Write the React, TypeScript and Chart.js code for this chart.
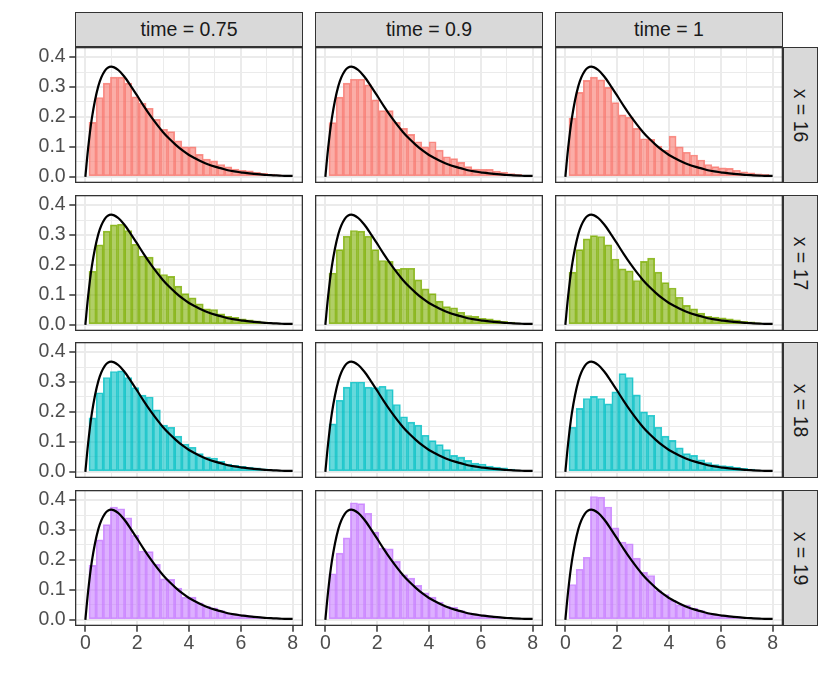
import { useEffect, useRef } from "react";
import Chart from "chart.js/auto";

// facet labels
const timeLabels = ["time = 0.75", "time = 0.9", "time = 1"];
const xLabels = ["x = 16", "x = 17", "x = 18", "x = 19"];

// histogram bin centres (30 bins over the data range, the edge bins fall outside 0..8)
const binMids = [
  0.276, 0.552, 0.828, 1.103, 1.379, 1.655, 1.931, 2.207, 2.483, 2.759, 3.034, 3.31, 3.586, 3.862,
  4.138, 4.414, 4.69, 4.966, 5.241, 5.517, 5.793, 6.069, 6.345, 6.621, 6.897, 7.172, 7.448, 7.724,
];

// densities per panel
const d16_075 = [0.182, 0.265, 0.313, 0.333, 0.333, 0.313, 0.267, 0.246, 0.229, 0.192, 0.159, 0.151, 0.12, 0.1, 0.1, 0.075, 0.059, 0.053, 0.041, 0.033, 0.026, 0.022, 0.02, 0.015, 0.012, 0.009, 0.007, 0.005];
const d16_09 = [0.181, 0.266, 0.313, 0.326, 0.326, 0.307, 0.257, 0.221, 0.221, 0.182, 0.162, 0.142, 0.117, 0.1, 0.117, 0.089, 0.067, 0.061, 0.048, 0.034, 0.026, 0.025, 0.025, 0.019, 0.015, 0.011, 0.008, 0.005];
const d16_1 = [0.196, 0.282, 0.322, 0.333, 0.324, 0.299, 0.248, 0.207, 0.199, 0.162, 0.127, 0.125, 0.103, 0.089, 0.136, 0.1, 0.082, 0.073, 0.056, 0.041, 0.034, 0.03, 0.028, 0.022, 0.017, 0.013, 0.01, 0.008];
const d17_075 = [0.179, 0.267, 0.313, 0.334, 0.336, 0.315, 0.269, 0.23, 0.226, 0.188, 0.168, 0.162, 0.129, 0.104, 0.09, 0.07, 0.053, 0.051, 0.037, 0.028, 0.025, 0.02, 0.017, 0.013, 0.01, 0.007, 0.005, 0.003];
const d17_09 = [0.173, 0.251, 0.296, 0.315, 0.313, 0.296, 0.251, 0.215, 0.212, 0.185, 0.189, 0.189, 0.15, 0.12, 0.104, 0.079, 0.061, 0.057, 0.042, 0.031, 0.028, 0.022, 0.02, 0.016, 0.012, 0.009, 0.006, 0.004];
const d17_1 = [0.176, 0.251, 0.287, 0.298, 0.295, 0.267, 0.22, 0.187, 0.18, 0.148, 0.212, 0.223, 0.176, 0.141, 0.123, 0.092, 0.065, 0.053, 0.039, 0.028, 0.026, 0.023, 0.02, 0.017, 0.012, 0.01, 0.007, 0.004];
const d18_075 = [0.18, 0.264, 0.315, 0.335, 0.337, 0.315, 0.281, 0.256, 0.25, 0.207, 0.156, 0.149, 0.119, 0.093, 0.082, 0.061, 0.049, 0.046, 0.035, 0.026, 0.022, 0.018, 0.016, 0.013, 0.01, 0.007, 0.004, 0.002];
const d18_09 = [0.16, 0.239, 0.283, 0.3, 0.3, 0.283, 0.281, 0.286, 0.275, 0.225, 0.184, 0.166, 0.156, 0.122, 0.104, 0.091, 0.074, 0.055, 0.049, 0.038, 0.029, 0.026, 0.019, 0.016, 0.013, 0.009, 0.006, 0.003];
const d18_1 = [0.149, 0.212, 0.245, 0.252, 0.245, 0.227, 0.267, 0.328, 0.315, 0.257, 0.2, 0.189, 0.149, 0.119, 0.105, 0.08, 0.061, 0.055, 0.04, 0.031, 0.024, 0.021, 0.019, 0.015, 0.012, 0.009, 0.006, 0.003];
const d19_075 = [0.182, 0.267, 0.318, 0.377, 0.371, 0.341, 0.282, 0.23, 0.228, 0.185, 0.137, 0.135, 0.106, 0.076, 0.076, 0.057, 0.046, 0.04, 0.031, 0.022, 0.02, 0.017, 0.013, 0.01, 0.008, 0.006, 0.004, 0.002];
const d19_09 = [0.154, 0.223, 0.274, 0.391, 0.388, 0.356, 0.293, 0.24, 0.237, 0.195, 0.15, 0.139, 0.115, 0.09, 0.076, 0.059, 0.046, 0.042, 0.031, 0.023, 0.02, 0.017, 0.013, 0.01, 0.008, 0.006, 0.004, 0.002];
const d19_1 = [0.118, 0.169, 0.209, 0.412, 0.41, 0.377, 0.307, 0.26, 0.254, 0.206, 0.159, 0.148, 0.098, 0.084, 0.065, 0.05, 0.048, 0.039, 0.031, 0.02, 0.018, 0.014, 0.012, 0.01, 0.008, 0.006, 0.004, 0.002];

const panelData = [
  [d16_075, d16_09, d16_1],
  [d17_075, d17_09, d17_1],
  [d18_075, d18_09, d18_1],
  [d19_075, d19_09, d19_1],
];

// reference density curve
const curveX = [0, 0.1, 0.25, 0.5, 0.75, 1, 1.25, 1.5, 1.75, 2, 2.25, 2.5, 2.75, 3, 3.25, 3.5, 3.75, 4, 4.25, 4.5, 4.75, 5, 5.25, 5.5, 5.75, 6, 6.25, 6.5, 6.75, 7, 7.25, 7.5, 7.75, 8];
const curveY = [0, 0.09, 0.195, 0.303, 0.354, 0.368, 0.358, 0.335, 0.304, 0.271, 0.237, 0.205, 0.176, 0.149, 0.126, 0.106, 0.088, 0.073, 0.061, 0.05, 0.041, 0.034, 0.028, 0.022, 0.018, 0.015, 0.012, 0.01, 0.008, 0.006, 0.005, 0.004, 0.003, 0.003];

// axis ticks (labelled) and grid lines (major + minor)
const xTicks = [0, 2, 4, 6, 8];
const xGrid = [0, 1, 2, 3, 4, 5, 6, 7, 8];
const yTicks = [0, 0.1, 0.2, 0.3, 0.4];
const yGrid = [0, 0.05, 0.1, 0.15, 0.2, 0.25, 0.3, 0.35, 0.4];

const lineCols = [
  "rgba(248,118,109,0.8)",
  "rgba(124,174,0,0.8)",
  "rgba(0,191,196,0.8)",
  "rgba(199,124,255,0.8)",
];
const fillCols = [
  "rgba(248,118,109,0.6)",
  "rgba(124,174,0,0.6)",
  "rgba(0,191,196,0.6)",
  "rgba(199,124,255,0.6)",
];

const FONT = '"Liberation Sans", Arial, Helvetica, sans-serif';
const colLeft = [75, 315, 555];
const rowTop = [47, 195, 342, 490];
const PW = 228;
const PH = 136;
const YAXIS_W = 55;
const XAXIS_H = 34;

const panelBorder = {
  id: "panelBorder",
  afterDraw(chart: any) {
    const { ctx, chartArea: a } = chart;
    ctx.save();
    ctx.strokeStyle = "#333333";
    ctx.lineWidth = 1.3;
    ctx.strokeRect(a.left + 0.65, a.top + 0.65, a.width - 1.3, a.height - 1.3);
    ctx.restore();
  },
};

function Panel({ row, col }: { row: number; col: number }) {
  const ref = useRef<HTMLCanvasElement>(null);
  const showY = col === 0;
  const showX = row === 3;

  useEffect(() => {
    const canvas = ref.current;
    if (!canvas) return;
    const vals = panelData[row][col];
    const isMajorX = (c: any) => c.tick && c.tick.value % 2 === 0;
    const isMajorY = (c: any) => c.tick && yTicks.includes(c.tick.value);

    const chart = new Chart(canvas, {
      type: "bar",
      data: {
        datasets: [
          {
            type: "line",
            data: curveX.map((x, i) => ({ x, y: curveY[i] })),
            borderColor: "#000000",
            borderWidth: 2.2,
            pointRadius: 0,
            cubicInterpolationMode: "monotone",
            order: 0,
          } as any,
          {
            type: "bar",
            data: binMids.map((x, i) => ({ x, y: vals[i] })),
            backgroundColor: fillCols[row],
            borderColor: lineCols[row],
            borderWidth: 1,
            borderSkipped: false,
            barPercentage: 1,
            categoryPercentage: 1,
            order: 1,
          } as any,
        ],
      },
      options: {
        responsive: true,
        maintainAspectRatio: false,
        animation: false,
        events: [],
        layout: { padding: 0 },
        plugins: { legend: { display: false }, tooltip: { enabled: false } },
        scales: {
          x: {
            type: "linear",
            min: -0.4,
            max: 8.4,
            offset: false,
            afterBuildTicks: (s: any) => {
              s.ticks = xGrid.map((v) => ({ value: v }));
            },
            afterFit: (s: any) => {
              s.height = showX ? XAXIS_H : 0;
              s.paddingLeft = 0;
              s.paddingRight = 0;
            },
            border: { display: false },
            grid: {
              offset: false,
              color: "#ebebeb",
              lineWidth: (c: any) => (isMajorX(c) ? 2 : 1),
              drawTicks: showX,
              tickLength: 5.7,
              tickWidth: 1.5,
              tickColor: (c: any) => (isMajorX(c) ? "#333333" : "rgba(0,0,0,0)"),
            },
            ticks: {
              display: showX,
              autoSkip: false,
              maxRotation: 0,
              padding: 0,
              color: "#4d4d4d",
              font: { family: FONT, size: 19.5 },
              callback: (v: any) => (xTicks.includes(v) ? String(v) : ""),
            },
          },
          y: {
            type: "linear",
            min: -0.0207,
            max: 0.4337,
            afterBuildTicks: (s: any) => {
              s.ticks = yGrid.map((v) => ({ value: v }));
            },
            afterFit: (s: any) => {
              s.width = showY ? YAXIS_W : 0;
              s.paddingTop = 0;
              s.paddingBottom = 0;
            },
            border: { display: false },
            grid: {
              color: "#ebebeb",
              lineWidth: (c: any) => (isMajorY(c) ? 2 : 1),
              drawTicks: showY,
              tickLength: 5.7,
              tickWidth: 1.5,
              tickColor: (c: any) => (isMajorY(c) ? "#333333" : "rgba(0,0,0,0)"),
            },
            ticks: {
              display: showY,
              autoSkip: false,
              padding: 3.6,
              color: "#4d4d4d",
              font: { family: FONT, size: 19.5 },
              callback: (v: any) => (yTicks.includes(v) ? Number(v).toFixed(1) : ""),
            },
          },
        },
      } as any,
      plugins: [panelBorder],
    });

    return () => chart.destroy();
  }, [row, col, showX, showY]);

  const left = colLeft[col] - (showY ? YAXIS_W : 0);
  const width = PW + (showY ? YAXIS_W : 0);
  const height = PH + (showX ? XAXIS_H : 0);
  return (
    <div style={{ position: "absolute", left, top: rowTop[row], width, height }}>
      <canvas ref={ref} />
    </div>
  );
}

const stripStyle = {
  position: "absolute" as const,
  boxSizing: "border-box" as const,
  background: "#d9d9d9",
  border: "1.3px solid #333333",
  color: "#1a1a1a",
  fontFamily: FONT,
  fontSize: 19.5,
  display: "flex",
  alignItems: "center",
  justifyContent: "center",
  whiteSpace: "nowrap" as const,
};

export default function App() {
  return (
    <div
      style={{
        position: "relative",
        width: 830,
        height: 692,
        background: "#ffffff",
        overflow: "hidden",
      }}
    >
      <style>{"body { margin: 0; }"}</style>
      {timeLabels.map((t, c) => (
        <div key={t} style={{ ...stripStyle, left: colLeft[c], top: 12, width: PW, height: 35 }}>
          {t}
        </div>
      ))}
      {xLabels.map((t, r) => (
        <div key={t} style={{ ...stripStyle, left: colLeft[2] + PW, top: rowTop[r], width: 35, height: PH }}>
          <span style={{ display: "inline-block", transform: "rotate(90deg)" }}>{t}</span>
        </div>
      ))}
      {rowTop.map((_, r) =>
        colLeft.map((__, c) => <Panel key={`${r}-${c}`} row={r} col={c} />),
      )}
    </div>
  );
}
